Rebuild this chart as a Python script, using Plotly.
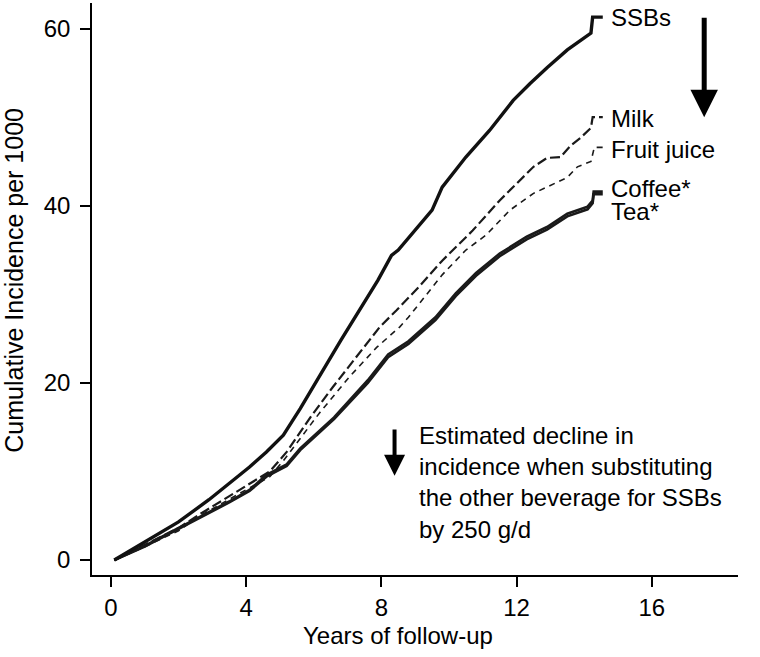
import plotly.graph_objects as go

# ---- data ----
years_ssb = [0.1, 1.0, 2.0, 2.9, 4.1, 4.6, 5.1, 5.35, 5.6, 6.1, 6.8, 7.9, 8.3, 8.5, 9.0,
             9.5, 9.8, 10.5, 11.2, 11.9, 12.4, 12.9, 13.5, 14.2, 14.25, 14.55]
ssb = [0, 2.0, 4.3, 6.8, 10.5, 12.2, 14.1, 15.6, 17.1, 20.3, 24.8, 31.6, 34.4, 35.0, 37.2,
       39.5, 42.1, 45.5, 48.5, 51.9, 53.8, 55.6, 57.6, 59.5, 61.3, 61.3]

years_milk = [0.1, 1.0, 2.0, 2.6, 3.8, 4.7, 5.2, 5.9, 6.56, 7.36, 7.95, 8.45, 9.1,
              9.8, 10.7, 11.5, 12.0, 12.5, 12.9, 13.3, 13.6, 13.9, 14.2, 14.25, 14.55]
milk = [0, 1.7, 3.6, 5.1, 7.9, 10.0, 12.2, 16.1, 19.5, 23.4, 26.3, 28.2, 30.8,
        33.8, 37.2, 40.6, 42.5, 44.4, 45.4, 45.5, 46.8, 47.7, 48.8, 50.0, 50.0]

years_fj = [0.1, 1.0, 2.0, 2.6, 3.8, 4.7, 5.1, 6.17, 7.06, 7.86, 8.54, 8.8, 9.8,
            10.5, 11.1, 11.8, 12.5, 13.0, 13.5, 13.8, 14.2, 14.3, 14.55]
fruit_juice = [0, 1.5, 3.3, 4.9, 7.5, 9.4, 11.2, 16.6, 20.7, 24.0, 26.3, 27.4, 32.2,
               35.0, 36.7, 39.5, 41.4, 42.3, 43.2, 44.4, 45.0, 46.6, 46.6]

years_ct = [0.1, 1.0, 1.65, 2.6, 3.5, 4.1, 4.6, 5.2, 5.6, 6.6, 7.6, 8.2, 8.8, 9.6,
            10.2, 10.8, 11.5, 12.3, 12.9, 13.5, 14.1, 14.25, 14.28, 14.55]
coffee = [0, 1.6, 2.9, 4.8, 6.6, 7.9, 9.6, 10.8, 12.6, 16.1, 20.3, 23.2, 24.7, 27.4,
          30.1, 32.4, 34.6, 36.5, 37.6, 39.1, 39.9, 40.6, 41.6, 41.6]
tea = [0, 1.5, 2.8, 4.7, 6.5, 7.8, 9.4, 10.6, 12.4, 15.9, 20.0, 22.9, 24.4, 27.1,
       29.8, 32.1, 34.3, 36.2, 37.3, 38.8, 39.6, 40.3, 41.3, 41.3]

labels = ["SSBs", "Milk", "Fruit juice", "Coffee*", "Tea*"]
label_y = [61.3, 49.8, 46.4, 42.0, 39.4]

x_ticks = [0, 4, 8, 12, 16]
y_ticks = [0, 20, 40, 60]

x_title = "Years of follow-up"
y_title = "Cumulative Incidence per 1000"
note = "Estimated decline in<br>incidence when substituting<br>the other beverage for SSBs<br>by 250 g/d"

FONT = "Liberation Sans, Arial, sans-serif"

fig = go.Figure()
fig.add_trace(go.Scatter(x=years_ct, y=tea, mode="lines", name="Tea",
                         line=dict(color="#1a1a1a", width=2.6)))
fig.add_trace(go.Scatter(x=years_ct, y=coffee, mode="lines", name="Coffee",
                         line=dict(color="#1a1a1a", width=2.6)))
fig.add_trace(go.Scatter(x=years_fj, y=fruit_juice, mode="lines", name="Fruit juice",
                         line=dict(color="#1a1a1a", width=1.6, dash="6px,5px")))
fig.add_trace(go.Scatter(x=years_milk, y=milk, mode="lines", name="Milk",
                         line=dict(color="#1a1a1a", width=2.2, dash="10px,4px")))
fig.add_trace(go.Scatter(x=years_ssb, y=ssb, mode="lines", name="SSBs",
                         line=dict(color="#111111", width=3.4)))

for lab, ly in zip(labels, label_y):
    fig.add_annotation(x=14.72, y=ly, text=lab, showarrow=False, xanchor="left",
                       yanchor="middle", font=dict(size=24, color="black", family=FONT))

# big arrow
fig.add_annotation(x=17.55, y=50.0, ax=17.55, ay=61.4, axref="x", ayref="y",
                   xref="x", yref="y", text="", showarrow=True, arrowhead=2,
                   arrowsize=1.1, arrowwidth=5, arrowcolor="black")
# small arrow
fig.add_annotation(x=8.39, y=9.5, ax=8.39, ay=14.9, axref="x", ayref="y",
                   xref="x", yref="y", text="", showarrow=True, arrowhead=2,
                   arrowsize=1.05, arrowwidth=4, arrowcolor="black")
fig.add_annotation(x=9.05, y=15.8, text=note, showarrow=False, xanchor="left",
                   yanchor="top", align="left",
                   font=dict(size=24, color="black", family=FONT))

# axis titles placed as annotations
fig.add_annotation(x=-0.121, y=0.516, xref="paper", yref="paper", text=y_title,
                   textangle=-90, showarrow=False, xanchor="center", yanchor="middle",
                   font=dict(size=25, color="black", family=FONT))
fig.add_annotation(x=0.474, y=-0.1066, xref="paper", yref="paper", text=x_title,
                   showarrow=False, xanchor="center", yanchor="middle",
                   font=dict(size=24, color="black", family=FONT))

fig.update_layout(
    width=760, height=657,
    margin=dict(l=92, r=22, t=3, b=82),
    paper_bgcolor="white", plot_bgcolor="white",
    showlegend=False,
    font=dict(family=FONT, size=24, color="black"),
)
fig.update_xaxes(range=[-0.56, 18.55], tickvals=x_ticks, ticks="outside", ticklen=10,
                 tickwidth=1.5, tickcolor="black", showline=True, linecolor="black",
                 linewidth=1.5, showgrid=False, zeroline=False, automargin=False,
                 tickfont=dict(size=24))
fig.update_yaxes(range=[-1.7, 62.9], tickvals=y_ticks, ticks="outside", ticklen=10,
                 tickwidth=1.5, tickcolor="black", showline=True, linecolor="black",
                 linewidth=1.5, showgrid=False, zeroline=False, automargin=False,
                 ticklabelstandoff=5, tickfont=dict(size=24))

fig.write_html("out.html", config={"displayModeBar": False},
               post_script="document.body.style.margin='0';document.body.style.overflow='hidden';")
